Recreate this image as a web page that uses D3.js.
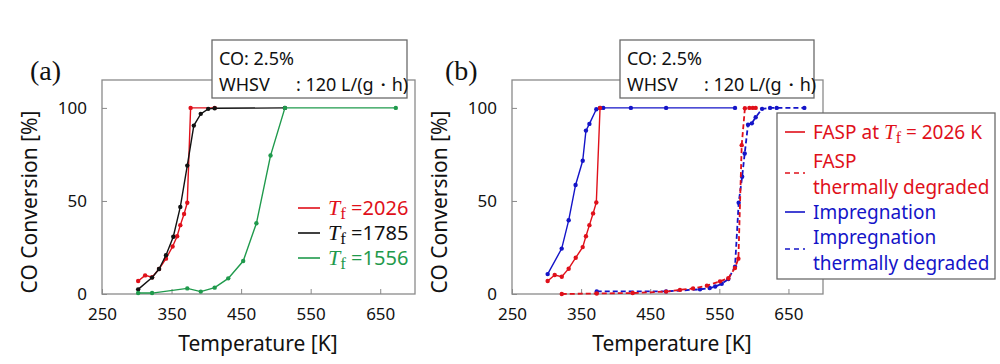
<!DOCTYPE html>
<html><head><meta charset="utf-8">
<script src="https://cdn.jsdelivr.net/npm/d3@7"></script>
<style>
body{margin:0;background:#fff;}
svg{display:block;font-family:"Noto Sans","Open Sans",sans-serif;}
</style></head><body>
<svg id="c" width="1000" height="364"></svg>
<script>
// ---------- data ----------
const xTicks = [250, 350, 450, 550, 650];
const yTicks = [0, 50, 100];

// panel (a)
const tf2026T = [302, 312, 322, 332, 342, 351.5, 358, 362.6, 368, 372.6, 377.4, 412];
const tf2026V = [7, 10, 9, 13.4, 19, 25.5, 31, 37, 43, 49, 100, 100];
const tf1785T = [302, 322, 332, 342, 352.5, 362.6, 372.6, 382, 392, 402.7, 412, 513];
const tf1785V = [2.5, 8.8, 13.4, 20.8, 30.8, 46.8, 69, 90.5, 96.8, 99.5, 99.8, 100];
const tf1556T = [302, 322, 372.6, 392, 412, 431.5, 453, 472, 492.3, 513, 672.4];
const tf1556V = [0.5, 0.5, 3, 1.3, 3.4, 8.4, 17.7, 38, 74.4, 100, 100];

// panel (b)
const faspT = [301.6, 311.8, 322, 332, 342.2, 352.3, 357, 362, 367.3, 372, 377.4];
const faspV = [7, 10.2, 9.3, 13.6, 19.5, 25.2, 31, 37, 43.3, 49.2, 100];
const impT = [301.6, 321.9, 332, 342, 352.3, 357, 362, 372, 377.4, 382, 422, 473, 572.7];
const impV = [10.7, 24.4, 39.6, 58.6, 71.6, 87.8, 91.4, 99.3, 100, 100, 100, 100, 100];
const faspDegT = [322, 372.6, 424.6, 473, 493, 512, 532, 551, 563, 572.6, 577.6, 582.4, 587, 593.5, 598.4, 602.6];
const faspDegV = [0, 0.3, 0.5, 1.3, 2.2, 3, 4.5, 6.8, 8.5, 14, 19, 80, 99.8, 100, 100, 100];
const impDegT = [372.6, 473, 522, 536, 544, 553.5, 563, 572.7, 578, 583, 586.7, 591.5, 597, 602.6, 611.8, 623.4, 633, 673];
const impDegV = [1.4, 1.4, 2.5, 3.2, 4, 5.5, 8, 14.7, 49, 63, 75.5, 91, 91.7, 95, 99.5, 100, 100, 100];

const legendA = [
  {val: "2026", color: "#e0101a"},
  {val: "1785", color: "#111111"},
  {val: "1556", color: "#1f9a4c"}
];

// ---------- drawing ----------
const svg = d3.select("#c");
const RED = "#e0101a", BLUE = "#1414c8", GREEN = "#1f9a4c", BLACK = "#111111";
const GRID = "#8a8a8a";

function panel(x0, x1, label, labelX, yTitleX, xTitleX) {
  const x = d3.scaleLinear().domain([250, 700]).range([x0, x1]);
  const y = d3.scaleLinear().domain([0, 115]).range([294, 80]);
  const g = svg.append("g");
  g.append("rect").attr("x", x0).attr("y", 80).attr("width", x1 - x0).attr("height", 214)
    .attr("fill", "none").attr("stroke", GRID).attr("stroke-width", 1.3);
  const ax = g.append("g").attr("transform", "translate(0,294)")
    .call(d3.axisBottom(x).tickValues(xTicks).tickSize(-5).tickPadding(14).tickFormat(d3.format("d")));
  ax.select(".domain").remove();
  ax.selectAll("line").attr("stroke", GRID);
  ax.selectAll("text").attr("font-size", 17).attr("fill", "#111").attr("font-family", "Noto Sans");
  const ay = g.append("g").attr("transform", `translate(${x0},0)`)
    .call(d3.axisLeft(y).tickValues(yTicks).tickSize(-5).tickPadding(15));
  ay.select(".domain").remove();
  ay.selectAll("line").attr("stroke", GRID);
  ay.selectAll("text").attr("font-size", 17).attr("fill", "#111").attr("font-family", "Noto Sans");
  g.append("text").attr("transform", `translate(${yTitleX},202) rotate(-90)`)
    .attr("text-anchor", "middle").attr("font-size", 21).attr("fill", "#111").text("CO Conversion [%]");
  g.append("text").attr("x", xTitleX).attr("y", 351).attr("text-anchor", "middle")
    .attr("font-size", 21).attr("fill", "#111").text("Temperature [K]");
  g.append("text").attr("x", labelX).attr("y", 80).attr("font-size", 28)
    .attr("font-family", "Liberation Serif, serif").attr("fill", "#111").text(label);
  return {x, y, g};
}

function series(p, T, V, color, dashed) {
  const data = T.map((t, i) => ({t, v: V[i]}));
  const line = d3.line().x(d => p.x(d.t)).y(d => p.y(d.v));
  p.g.append("path").datum(data).attr("d", line).attr("fill", "none")
    .attr("stroke", color).attr("stroke-width", dashed ? 1.8 : 1.4)
    .attr("stroke-dasharray", dashed ? "5,3" : null);
  p.g.selectAll(null).data(data).enter().append("circle")
    .attr("cx", d => p.x(d.t)).attr("cy", d => p.y(d.v)).attr("r", 2.2).attr("fill", color);
}

function noteBox(x, w) {
  const g = svg.append("g");
  g.append("rect").attr("x", x).attr("y", 40).attr("width", w).attr("height", 58)
    .attr("fill", "#fff").attr("stroke", "#6a6a6a").attr("stroke-width", 1.3);
  g.append("text").attr("x", x + 7).attr("y", 65).attr("font-size", 18).attr("fill", "#111").text("CO: 2.5%");
  g.append("text").attr("x", x + 7).attr("y", 91).attr("font-size", 18).attr("fill", "#111").text("WHSV");
  g.append("text").attr("x", x + 84).attr("y", 91).attr("font-size", 18).attr("fill", "#111").text(": 120 L/(g\u30FBh)");
}

function tfText(sel, x, y, color, rest, size) {
  const t = sel.append("text").attr("x", x).attr("y", y).attr("font-size", size).attr("fill", color);
  t.append("tspan").attr("font-family", "Liberation Serif, serif").attr("font-style", "italic")
    .attr("font-size", size * 1.1).text("T");
  t.append("tspan").attr("font-family", "Liberation Serif, serif").attr("font-size", size * 0.85)
    .attr("dy", 4).text("f");
  t.append("tspan").attr("dy", -4).text(rest);
  return t;
}

// Panel (a)
const pa = panel(102, 415, "(a)", 30, 37, 258);
series(pa, tf2026T, tf2026V, RED, false);
series(pa, tf1785T, tf1785V, BLACK, false);
series(pa, tf1556T, tf1556V, GREEN, false);
legendA.forEach((d, i) => {
  const yy = 208 + i * 25;
  pa.g.append("line").attr("x1", 298).attr("x2", 320).attr("y1", yy).attr("y2", yy)
    .attr("stroke", d.color).attr("stroke-width", 1.6);
  tfText(pa.g, 328, yy + 7, d.color, " =" + d.val, 20);
});
noteBox(212, 195);

// Panel (b)
const pb = panel(512, 823, "(b)", 445, 447, 672);
series(pb, impDegT, impDegV, BLUE, true);
series(pb, faspDegT, faspDegV, RED, true);
series(pb, impT, impV, BLUE, false);
series(pb, faspT, faspV, RED, false);
noteBox(620, 194);

// legend (b)
const lg = svg.append("g");
lg.append("rect").attr("x", 777).attr("y", 113).attr("width", 218).attr("height", 166)
  .attr("fill", "#fff").attr("stroke", "#6a6a6a").attr("stroke-width", 1.3);
const legB = [
  {color: RED, dashed: false, sy: 132, lines: null},
  {color: RED, dashed: true, sy: 173, lines: ["FASP", "thermally degraded"], ty: [168, 194]},
  {color: BLUE, dashed: false, sy: 212, lines: ["Impregnation"], ty: [219]},
  {color: BLUE, dashed: true, sy: 249, lines: ["Impregnation", "thermally degraded"], ty: [244, 270]}
];
legB.forEach(d => {
  lg.append("line").attr("x1", 785).attr("x2", 805).attr("y1", d.sy).attr("y2", d.sy)
    .attr("stroke", d.color).attr("stroke-width", 1.6).attr("stroke-dasharray", d.dashed ? "5,4" : null);
  if (d.lines) {
    d.lines.forEach((s, i) => lg.append("text").attr("x", 813).attr("y", d.ty[i])
      .attr("font-size", 19).attr("fill", d.color).text(s));
  }
});
const t0 = lg.append("text").attr("x", 813).attr("y", 139).attr("font-size", 19).attr("fill", RED);
t0.append("tspan").text("FASP at ");
t0.append("tspan").attr("font-family", "Liberation Serif, serif").attr("font-style", "italic").attr("font-size", 21).text("T");
t0.append("tspan").attr("font-family", "Liberation Serif, serif").attr("font-size", 16).attr("dy", 4).text("f");
t0.append("tspan").attr("dy", -4).text(" = 2026 K");
</script></body></html>
